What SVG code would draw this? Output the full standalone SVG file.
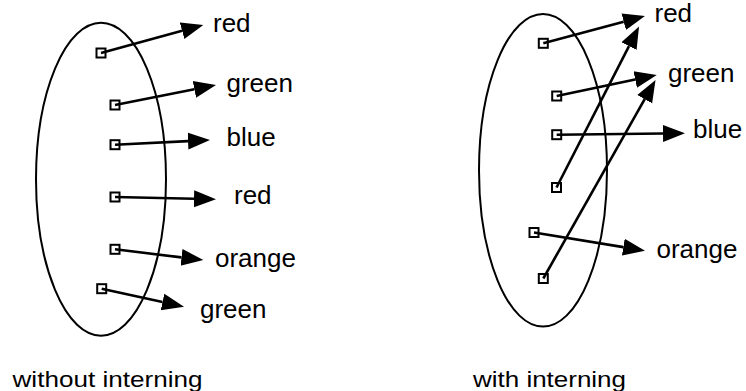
<svg xmlns="http://www.w3.org/2000/svg" width="746" height="391" viewBox="0 0 746 391">
<style>
.set{fill:none;stroke:#000;stroke-width:2}
.ptr{fill:#fff;stroke:#000;stroke-width:2}
.arr{stroke:#000;stroke-width:2.6;fill:none;marker-end:url(#ah)}
.lbl{font-family:"Liberation Sans",Arial,sans-serif;font-size:26px;fill:#000}
.cap{font-family:"Liberation Sans",Arial,sans-serif;font-size:22px;fill:#000}
</style>
<defs>
<marker id="ah" markerUnits="userSpaceOnUse" markerWidth="24" markerHeight="20" viewBox="0 -10 24 20" refX="0" refY="0" orient="auto">
<path d="M0,-8.5 L22,0 L0,8.5 z" fill="#000"/>
</marker>
</defs>
<g id="set-left"><ellipse class="set" cx="101" cy="179.2" rx="65" ry="156.5"/></g>
<g id="set-right"><ellipse class="set" cx="543" cy="170.3" rx="64" ry="156.3"/></g>
<g id="p1"><rect class="ptr" x="96.5" y="48.5" width="9" height="9"/></g>
<g id="p2"><rect class="ptr" x="110.5" y="100.5" width="9" height="9"/></g>
<g id="p3"><rect class="ptr" x="110.5" y="140.2" width="9" height="9"/></g>
<g id="p4"><rect class="ptr" x="110.5" y="192.5" width="9" height="9"/></g>
<g id="p5"><rect class="ptr" x="110.5" y="244.8" width="9" height="9"/></g>
<g id="p6"><rect class="ptr" x="97.2" y="284.2" width="9" height="9"/></g>
<g id="qA"><rect class="ptr" x="538.8" y="38.8" width="9" height="9"/></g>
<g id="qB"><rect class="ptr" x="552.2" y="91.5" width="9" height="9"/></g>
<g id="qC"><rect class="ptr" x="552.2" y="130.2" width="9" height="9"/></g>
<g id="qD"><rect class="ptr" x="552" y="183" width="9" height="9"/></g>
<g id="qE"><rect class="ptr" x="529.5" y="228" width="9" height="9"/></g>
<g id="qF"><rect class="ptr" x="538.8" y="274" width="9" height="9"/></g>
<g id="connectors">
<line class="arr" x1="101" y1="53" x2="182.1" y2="30.8"/>
<line class="arr" x1="115" y1="105" x2="194.4" y2="89.3"/>
<line class="arr" x1="115" y1="144.7" x2="188" y2="141.1"/>
<line class="arr" x1="115" y1="197" x2="194" y2="198.8"/>
<line class="arr" x1="115" y1="249.3" x2="181.5" y2="257.4"/>
<line class="arr" x1="101.7" y1="288.7" x2="162.5" y2="302"/>
<line class="arr" x1="543.3" y1="43.3" x2="623.7" y2="21.7"/>
<line class="arr" x1="556.7" y1="96" x2="635.2" y2="79.5"/>
<line class="arr" x1="556.7" y1="134.7" x2="663" y2="133.5"/>
<line class="arr" x1="556.5" y1="187.5" x2="629" y2="46.1"/>
<line class="arr" x1="534" y1="232.5" x2="623.3" y2="247.1"/>
<line class="arr" x1="543.3" y1="278.5" x2="644.7" y2="99.2"/>
</g>
<g id="l1"><text class="lbl" x="213" y="32">red</text></g>
<g id="l2"><text class="lbl" x="226.5" y="92">green</text></g>
<g id="l3"><text class="lbl" x="226.5" y="146">blue</text></g>
<g id="l4"><text class="lbl" x="234" y="203.5">red</text></g>
<g id="l5"><text class="lbl" x="215" y="267">orange</text></g>
<g id="l6"><text class="lbl" x="200" y="318">green</text></g>
<g id="r1"><text class="lbl" x="654.5" y="22">red</text></g>
<g id="r2"><text class="lbl" x="668" y="82">green</text></g>
<g id="r3"><text class="lbl" x="693" y="138">blue</text></g>
<g id="r4"><text class="lbl" x="656.5" y="258">orange</text></g>
<g id="cap-left"><text class="cap" x="12.5" y="387" textLength="190" lengthAdjust="spacingAndGlyphs">without interning</text></g>
<g id="cap-right"><text class="cap" x="473" y="387" textLength="153" lengthAdjust="spacingAndGlyphs">with interning</text></g>
</svg>
